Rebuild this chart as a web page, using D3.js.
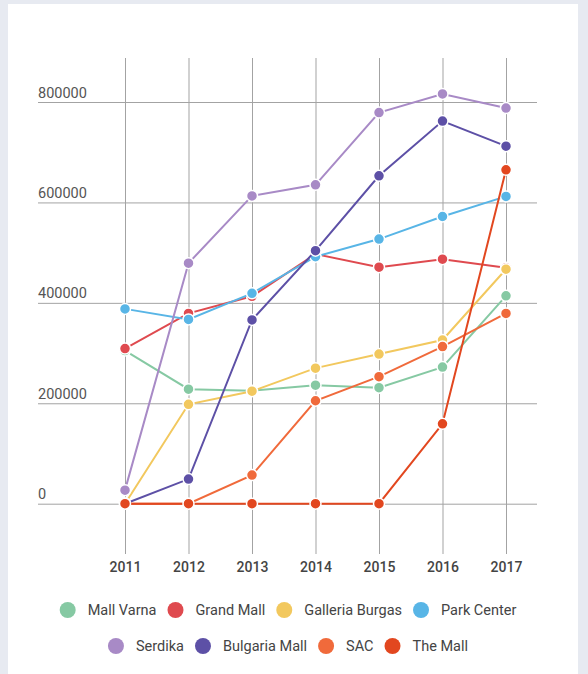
<!DOCTYPE html>
<html>
<head>
<meta charset="utf-8">
<script src="https://cdn.jsdelivr.net/npm/d3@7"></script>
<style>
  html, body { margin: 0; padding: 0; background: #e7eaf1; }
  #chart { width: 588px; height: 674px; }
  text { font-family: Roboto, "Noto Sans", sans-serif; }
</style>
</head>
<body>
<div id="chart"></div>
<script>
// chart data
const years = ['2011', '2012', '2013', '2014', '2015', '2016', '2017'];
const seriesNames = ['Mall Varna', 'Grand Mall', 'Galleria Burgas', 'Park Center',
                     'Serdika', 'Bulgaria Mall', 'SAC', 'The Mall'];
const seriesColors = ['#86c9a3', '#df4a4f', '#f2c85e', '#58b5e6',
                      '#a88ac6', '#5d50a6', '#f06a3b', '#e2471f'];
const mallVarna    = [305000, 228000, 225000, 236000, 231000, 272000, 414000];
const grandMall    = [309000, 379000, 413000, 497000, 471000, 487000, 470000];
const galleria     = [0, 198000, 224000, 270000, 298000, 326000, 467000];
const parkCenter   = [388000, 367000, 419000, 492000, 527000, 572000, 612000];
const serdika      = [27000, 479000, 613000, 635000, 779000, 816000, 788000];
const bulgariaMall = [0, 49000, 366000, 504000, 653000, 762000, 712000];
const sac          = [0, 0, 57000, 205000, 253000, 313000, 379000];
const theMall      = [0, 0, 0, 0, 0, 159000, 665000];
const yTicks = [0, 200000, 400000, 600000, 800000];

const allValues = [mallVarna, grandMall, galleria, parkCenter, serdika, bulgariaMall, sac, theMall];
const series = seriesNames.map((name, i) => ({
  name,
  color: seriesColors[i],
  values: allValues[i].map((v, j) => ({ year: years[j], value: v }))
}));

const width = 588, height = 674;

const svg = d3.select('#chart')
  .append('svg')
  .attr('width', width)
  .attr('height', height);

// white card
svg.append('rect')
  .attr('x', 8).attr('y', 4)
  .attr('width', 570).attr('height', height)
  .attr('fill', '#fff');

const x = d3.scalePoint().domain(years).range([125, 506]);
const y = d3.scaleLinear().domain([0, 800000]).range([503.7, 102]);

// horizontal grid + labels
const yAxis = svg.append('g')
  .attr('transform', 'translate(38,0)')
  .call(d3.axisRight(y).tickValues(yTicks).tickSize(499).tickFormat(d3.format('d')));
yAxis.select('.domain').remove();
yAxis.selectAll('line').attr('stroke', '#a3a3a3');
yAxis.selectAll('text')
  .attr('x', 0).attr('y', -5).attr('dy', 0)
  .attr('text-anchor', 'start')
  .attr('fill', '#555')
  .style('font-size', '14.5px');

// vertical grid + year labels
const xAxis = svg.append('g')
  .attr('transform', 'translate(0,58)')
  .call(d3.axisBottom(x).tickSize(496));
xAxis.select('.domain').remove();
xAxis.selectAll('line').attr('stroke', '#a3a3a3');
xAxis.selectAll('text')
  .attr('y', 514).attr('dy', 0)
  .attr('fill', '#444')
  .style('font-size', '14px')
  .style('font-weight', 500);

// lines
const line = d3.line().x(d => x(d.year)).y(d => y(d.value));

const groups = svg.append('g').selectAll('g')
  .data(series)
  .join('g');

groups.append('path')
  .attr('d', d => line(d.values))
  .attr('fill', 'none')
  .attr('stroke', d => d.color)
  .attr('stroke-width', 2);

groups.selectAll('circle')
  .data(d => d.values.map(v => ({ ...v, color: d.color })))
  .join('circle')
  .attr('cx', d => x(d.year))
  .attr('cy', d => y(d.value))
  .attr('r', 5.5)
  .attr('fill', d => d.color)
  .attr('stroke', '#fff')
  .attr('stroke-width', 1.5);

// legend, two centered rows
const legendRows = [series.slice(0, 4), series.slice(4)];
const rowY = [610, 646];
const legendCenter = 288;

legendRows.forEach((row, r) => {
  const g = svg.append('g');
  let cx = 0;
  row.forEach(s => {
    g.append('circle')
      .attr('cx', cx).attr('cy', rowY[r])
      .attr('r', 8)
      .attr('fill', s.color);
    const t = g.append('text')
      .attr('x', cx + 20).attr('y', rowY[r])
      .attr('dy', '0.35em')
      .attr('fill', '#444')
      .style('font-size', '14.5px')
      .text(s.name);
    cx = cx + 20 + t.node().getComputedTextLength() + 19;
  });
  const rowWidth = cx - 19 + 8; // from circle left edge (-8) to text end
  g.attr('transform', `translate(${legendCenter - rowWidth / 2 + 8},0)`);
});
</script>
</body>
</html>
